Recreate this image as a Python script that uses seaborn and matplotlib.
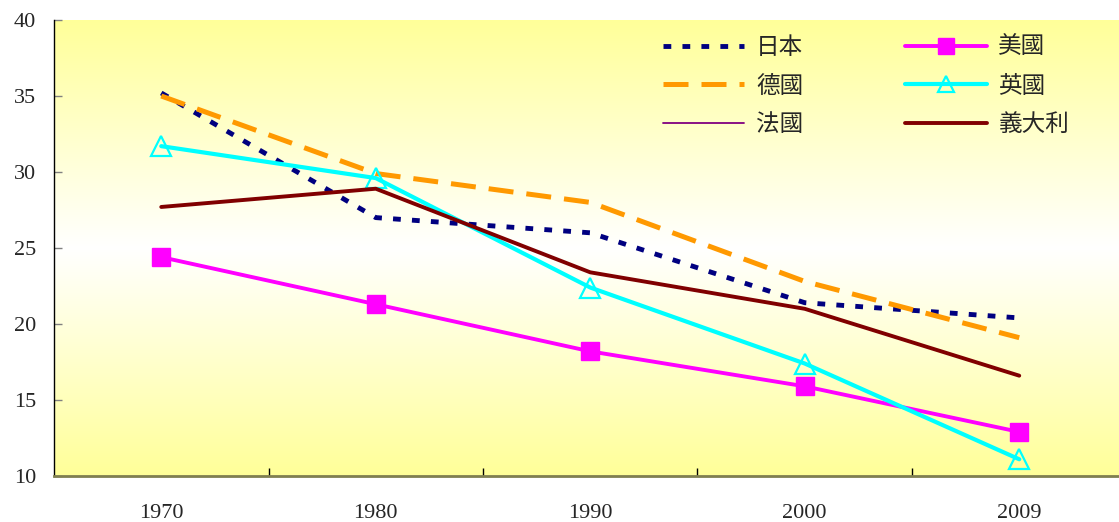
import numpy as np
import pandas as pd
import matplotlib
matplotlib.use("Agg")
import matplotlib.pyplot as plt
from matplotlib.colors import LinearSegmentedColormap
from matplotlib.lines import Line2D
import seaborn as sns

years = ["1970", "1980", "1990", "2000", "2009"]
japan = [35.2, 27.0, 26.0, 21.4, 20.4]
germany = [35.0, 29.9, 28.0, 22.8, 19.1]
france = [np.nan, np.nan, np.nan, np.nan, np.nan]
usa = [24.4, 21.3, 18.2, 15.9, 12.9]
uk = [31.7, 29.6, 22.4, 17.4, 11.1]
italy = [27.7, 28.9, 23.4, 21.0, 16.6]
y_ticks = [10, 15, 20, 25, 30, 35, 40]

sns.set_style("white")
plt.rcParams["font.family"] = ["Liberation Serif", "Noto Sans CJK TC", "DejaVu Sans"]

W, H = 1119, 522
fig = plt.figure(figsize=(W / 100, H / 100), dpi=100)
ax = fig.add_axes([54 / W, 46 / H, (1126.5 - 54) / W, 456 / H])

# yellow-white-yellow vertical gradient behind the plot
cmap = LinearSegmentedColormap.from_list("bg", ["#FFFF99", "#FFFFFF", "#FFFF99"])
grad = np.linspace(0, 1, 256).reshape(-1, 1)
ax.imshow(grad, cmap=cmap, aspect="auto", extent=[-0.5, 4.5, 10, 40],
          origin="upper", zorder=0, interpolation="bicubic")

df = pd.DataFrame({"year": years, "日本": japan, "德國": germany, "法國": france,
                   "美國": usa, "英國": uk, "義大利": italy})
x = np.arange(len(years))

styles = {
    "日本": dict(color="#000080", lw=3.5, ls=(0, (1.6, 2.3)), marker=None),
    "德國": dict(color="#FF9900", lw=3.6, ls=(0, (5.0, 2.6)), marker=None),
    "美國": dict(color="#FF00FF", lw=2.8, ls="-", marker="s"),
    "英國": dict(color="#00FFFF", lw=3.0, ls="-", marker="^"),
    "義大利": dict(color="#800000", lw=2.8, ls="-", marker=None),
}

for name, st in styles.items():
    kw = dict(color=st["color"], linewidth=st["lw"], linestyle=st["ls"], zorder=3)
    if st["marker"] == "s":
        kw.update(marker="s", markersize=13.5, markerfacecolor=st["color"],
                  markeredgecolor=st["color"], markeredgewidth=1)
    elif st["marker"] == "^":
        kw.update(marker="^", markersize=15, markerfacecolor="none",
                  markeredgecolor=st["color"], markeredgewidth=1.6)
    sns.lineplot(x=x, y=df[name].to_numpy(), ax=ax, legend=False, **kw)
    ax.lines[-1].set_dash_capstyle("butt")

# series without values: appears in the legend only
ax.plot(x, df["法國"].to_numpy(), color="#800080", lw=1.3)

ax.set_xlim(-0.5, 4.5)
ax.set_ylim(10, 40)
ax.set_yticks(y_ticks)
ax.set_xticks(x)
ax.set_xticklabels(years)
ax.set_xticks(np.arange(0.5, 4.0, 1.0), minor=True)
ax.tick_params(axis="x", which="major", length=0, pad=20, labelsize=16)
ax.tick_params(axis="x", which="minor", direction="in", length=6, width=1,
               color="black", bottom=True)
ax.tick_params(axis="y", direction="in", length=6, width=1, color="#808080",
               pad=13, labelsize=16, left=True)
for s in ["top", "right"]:
    ax.spines[s].set_visible(False)
ax.spines["left"].set_color("black")
ax.spines["left"].set_linewidth(1)
ax.spines["bottom"].set_color("#7F7F50")
ax.spines["bottom"].set_linewidth(2)
ax.set_xlabel("")
ax.set_ylabel("")

handles = [
    Line2D([], [], color="#000080", lw=3.5, ls=(0, (1.6, 2.3)), dash_capstyle="butt"),
    Line2D([], [], color="#FF9900", lw=3.6, ls=(0, (5.0, 2.6)), dash_capstyle="butt"),
    Line2D([], [], color="#800080", lw=1.3),
    Line2D([], [], color="#FF00FF", lw=2.8, marker="s", markersize=12,
           markerfacecolor="#FF00FF", markeredgecolor="#FF00FF"),
    Line2D([], [], color="#00FFFF", lw=3.0, marker="^", markersize=12,
           markerfacecolor="none", markeredgecolor="#00FFFF", markeredgewidth=1.6),
    Line2D([], [], color="#800000", lw=2.8),
]
labels = ["日本", "德國", "法國", "美國", "英國", "義大利"]
ax.legend(handles, labels, ncol=2, frameon=False, loc="upper left",
          bbox_to_anchor=(663 / W, 1 - 37 / H), bbox_transform=fig.transFigure,
          borderpad=0, borderaxespad=0, handlelength=3.45, handletextpad=0.5,
          columnspacing=4.3, labelspacing=0.7, prop={"size": 17})

fig.savefig("out.png", dpi=100)
